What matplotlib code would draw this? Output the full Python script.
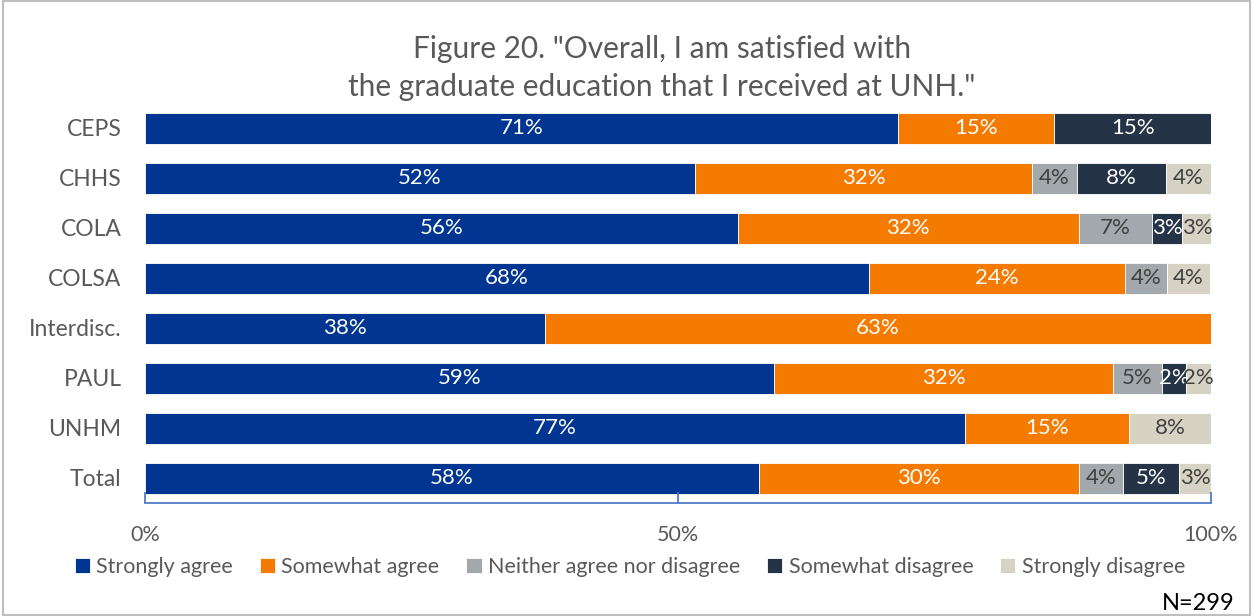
import matplotlib
matplotlib.use("Agg")
import matplotlib.pyplot as plt
from matplotlib.patches import Rectangle
import numpy as np

plt.rcParams['font.family'] = ['Lato', 'DejaVu Sans']

categories = ["CEPS", "CHHS", "COLA", "COLSA", "Interdisc.", "PAUL", "UNHM", "Total"]
series_names = ["Strongly agree", "Somewhat agree", "Neither agree nor disagree",
                "Somewhat disagree", "Strongly disagree"]
strongly_agree    = [70.6, 51.6, 55.6, 67.9, 37.5, 59.0, 76.9, 57.6]
somewhat_agree    = [14.7, 31.6, 32.0, 24.0, 62.5, 31.8, 15.4, 30.0]
neither           = [0.0,  4.2,  6.9,  4.0,  0.0,  4.6,  0.0,  4.1]
somewhat_disagree = [14.7, 8.4,  2.8,  0.0,  0.0,  2.3,  0.0,  5.3]
strongly_disagree = [0.0,  4.2,  2.8,  4.0,  0.0,  2.3,  7.7,  3.0]
x_ticks = [0, 50, 100]
x_tick_labels = ["0%", "50%", "100%"]

series = [strongly_agree, somewhat_agree, neither, somewhat_disagree, strongly_disagree]
colors = ["#003591", "#F57A00", "#A2A8AB", "#243446", "#D6D3C4"]
label_colors = ["white", "white", "#404040", "white", "#404040"]

fig = plt.figure(figsize=(12.53, 6.16), dpi=100)
ax = fig.add_axes([145/1253, (616-503)/616, (1211-145)/1253, 400/616])

y = np.arange(len(categories))
left = np.zeros(len(categories))
for vals, col, lc, name in zip(series, colors, label_colors, series_names):
    vals = np.array(vals)
    ax.barh(y, vals, left=left, height=0.62, color=col, edgecolor="white",
            linewidth=0.6, label=name)
    for yi, (l, v) in enumerate(zip(left, vals)):
        if v > 0:
            ax.text(l + v/2, yi, f"{int(v + 0.5)}%", ha="center", va="center",
                    color=lc, fontsize=16)
    left += vals

ax.set_ylim(len(categories) - 0.5, -0.5)
ax.set_xlim(0, 100)
ax.set_yticks(y)
ax.set_yticklabels(categories, fontsize=16.5, color="#595959")
ax.tick_params(axis="y", length=0, pad=17)
ax.set_xticks(x_ticks)
ax.set_xticklabels(x_tick_labels, fontsize=15.5, color="#595959")
ax.tick_params(axis="x", direction="in", length=8, color="#4472C4", width=1.2, pad=16)
for s in ["top", "right", "left"]:
    ax.spines[s].set_visible(False)
ax.spines["bottom"].set_color("#4472C4")
ax.spines["bottom"].set_linewidth(1.2)

fig.text(662/1253, 1 - 68/616, "Figure 20. \"Overall, I am satisfied with\nthe graduate education that I received at UNH.\"",
         ha="center", va="center", fontsize=21.5, color="#595959", linespacing=1.4)

handles, labels = ax.get_legend_handles_labels()
fig.legend(handles, labels, loc="center", bbox_to_anchor=(630/1253, 1 - 567/616), ncol=5,
           frameon=False, fontsize=15.5, handlelength=0.7, handleheight=0.7,
           handletextpad=0.3, columnspacing=1.25, labelcolor="#595959")

fig.text(1235/1253, 1 - 603/616, "N=299", ha="right", va="center", fontsize=17, color="black")

fig.patches.append(Rectangle((0.002, 0.002), 0.996, 0.996, transform=fig.transFigure,
                             fill=False, edgecolor="#BFBFBF", linewidth=1.5))

fig.savefig("out.png", dpi=100)
